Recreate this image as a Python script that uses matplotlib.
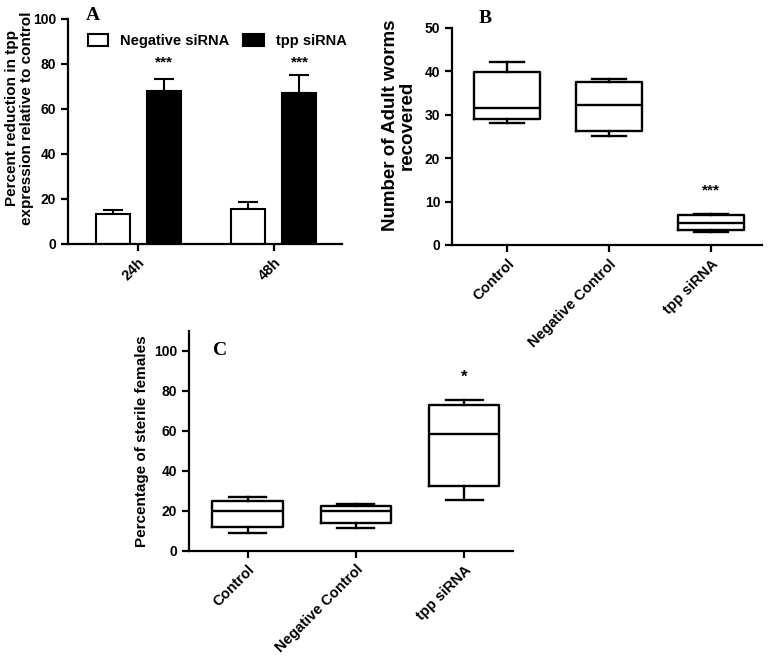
import matplotlib.pyplot as plt
import numpy as np

plt.rcParams['font.family'] = ['Liberation Sans', 'DejaVu Sans']
plt.rcParams['font.weight'] = 'bold'
plt.rcParams['axes.labelweight'] = 'bold'

# Panel A data
times = ['24h', '48h']
neg_mean = [13.3, 15.4]
neg_err = [1.8, 3.1]
tpp_mean = [68.0, 67.0]
tpp_err = [5.3, 8.1]
star_a = ['***', '***']

# Panel B data (whisker min, Q1, median, Q3, whisker max)
groups = ['Control', 'Negative Control', 'tpp siRNA']
b_min = [28.0, 25.1, 2.9]
b_q1 = [28.9, 26.3, 3.4]
b_med = [31.5, 32.1, 5.0]
b_q3 = [39.9, 37.4, 6.8]
b_max = [42.1, 38.1, 7.1]

# Panel C data
c_min = [9.0, 11.5, 25.2]
c_q1 = [12.0, 14.0, 32.3]
c_med = [19.8, 19.8, 58.2]
c_q3 = [25.0, 22.5, 72.7]
c_max = [26.7, 23.3, 75.2]

fig = plt.figure(figsize=(7.68, 6.63), dpi=100)


def style_axes(ax):
    for side in ['top', 'right']:
        ax.spines[side].set_visible(False)
    for side in ['left', 'bottom']:
        ax.spines[side].set_linewidth(1.6)
    ax.tick_params(width=1.6, length=5)
    ax.tick_params(axis='y', labelsize=10)
    ax.tick_params(axis='x', labelsize=10.5)


# ---- A ----
axA = fig.add_axes([0.0885, 0.632, 0.3568, 0.3394])
x = np.arange(len(times))
w = 0.25
off = 0.1875
axA.bar(x - off, neg_mean, w, color='white', edgecolor='black', linewidth=1.5,
        label='Negative siRNA', zorder=2)
axA.bar(x + off, tpp_mean, w, color='black', edgecolor='black', linewidth=1.5,
        label='tpp siRNA', zorder=2)
axA.errorbar(x - off, neg_mean, yerr=[np.zeros(2), neg_err], fmt='none',
             ecolor='black', elinewidth=1.5, capsize=7, capthick=1.5, zorder=1)
axA.errorbar(x + off, tpp_mean, yerr=[np.zeros(2), tpp_err], fmt='none',
             ecolor='black', elinewidth=1.5, capsize=7, capthick=1.5, zorder=1)
for xi, s in zip(x, star_a):
    axA.text(xi + off, 79, s, ha='center', va='baseline', fontsize=11)
axA.set_xlim(-0.515, 1.5)
axA.set_ylim(0, 100)
axA.set_yticks([0, 20, 40, 60, 80, 100])
axA.set_xticks(x)
axA.set_xticklabels(times, rotation=45, ha='right', rotation_mode='anchor')
axA.set_ylabel('Percent reduction in tpp\nexpression relative to control',
               fontsize=11, linespacing=1.05)
axA.yaxis.set_label_coords(-0.125, 0.56)
axA.legend(ncol=2, frameon=False, loc='upper left', bbox_to_anchor=(0.05, 0.96),
           fontsize=10.5, handlelength=1.4, handleheight=0.9, columnspacing=1.0,
           borderaxespad=0)
style_axes(axA)
fig.text(86 / 768, 1 - 20 / 663, 'A', family='Liberation Serif', fontsize=14,
         fontweight='bold', ha='left', va='baseline')


def box_panel(ax, mins, q1s, meds, q3s, maxs):
    stats = []
    for lo, q1, med, q3, hi in zip(mins, q1s, meds, q3s, maxs):
        stats.append({'whislo': lo, 'q1': q1, 'med': med, 'q3': q3, 'whishi': hi})
    lp = dict(color='black', linewidth=1.7)
    ax.bxp(stats, positions=range(len(stats)), widths=0.65, capwidths=0.34,
           showfliers=False, boxprops=lp, whiskerprops=lp, capprops=lp,
           medianprops=lp)
    ax.set_xticks(range(len(groups)))
    ax.set_xticklabels(groups, rotation=45, ha='right', rotation_mode='anchor')
    style_axes(ax)


# ---- B ----
axB = fig.add_axes([0.5885, 0.6305, 0.4036, 0.3277])
box_panel(axB, b_min, b_q1, b_med, b_q3, b_max)
axB.set_xlim(-0.54, 2.5)
axB.set_ylim(0, 50)
axB.set_yticks([0, 10, 20, 30, 40, 50])
axB.text(2, 11.7, '***', ha='center', va='baseline', fontsize=11)
axB.set_ylabel('Number of Adult worms\nrecovered', fontsize=13.5, linespacing=1.0)
axB.yaxis.set_label_coords(-0.116, 0.55)
fig.text(479 / 768, 1 - 23 / 663, 'B', family='Liberation Serif', fontsize=14,
         fontweight='bold', ha='left', va='baseline')

# ---- C ----
axC = fig.add_axes([0.2461, 0.1694, 0.4219, 0.3318])
box_panel(axC, c_min, c_q1, c_med, c_q3, c_max)
axC.set_xlim(-0.54, 2.45)
axC.set_ylim(0, 110)
axC.set_yticks([0, 20, 40, 60, 80, 100])
axC.text(2, 84.5, '*', ha='center', va='baseline', fontsize=12)
axC.set_ylabel('Percentage of sterile females', fontsize=11)
axC.yaxis.set_label_coords(-0.123, 0.5)
fig.text(213 / 768, 1 - 355 / 663, 'C', family='Liberation Serif', fontsize=14,
         fontweight='bold', ha='left', va='baseline')

fig.savefig('out.png', dpi=100)
